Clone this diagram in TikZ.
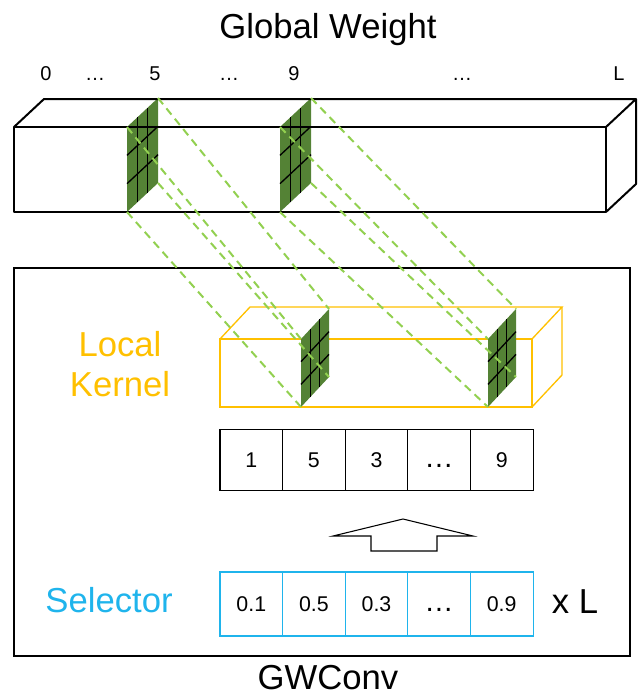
\documentclass[tikz,border=0pt]{standalone}
\usepackage{fontspec}
\setmainfont{Liberation Sans}
\usepackage{xcolor}
\usetikzlibrary{calc,positioning}
\definecolor{slicegreen}{HTML}{548235}
\definecolor{dashgreen}{HTML}{92D050}
\definecolor{kernelorange}{HTML}{FFC000}
\definecolor{selblue}{HTML}{1FB4EC}
\tikzset{%
  slicefill/.style = {fill=slicegreen}, % Weight slice
  gridline/.style  = {draw=black, line width=1pt},
  proj/.style      = {draw=dashgreen, line width=1.5pt, dash pattern=on 6pt off 4pt},
  idxcell/.style   = {draw, line width=0.8pt, minimum width=47pt, minimum height=46pt,
    inner sep=0pt, font=\fontsize{16}{16}\selectfont, text height=11.5pt, text depth=0pt},
  selcell/.style   = {idxcell, draw=selblue, minimum height=48pt},
  toplabel/.style  = {inner sep=0pt, font=\fontsize{15}{15}\selectfont, text height=11pt, text depth=0pt},
  bigtext/.style   = {inner sep=0pt, font=\fontsize{26}{30}\selectfont}
}
\newcommand{\celldots}{{\fontsize{22}{22}\selectfont …}}
% slice: name, x, bottom y, height, depth dx, depth dy
\newcommand{\wslice}[6]{%
  \coordinate (#1-a) at (#2,#3);
  \coordinate (#1-b) at (#2,#3-#4);
  \coordinate (#1-c) at (#2+#5,#3-#4+#6);
  \coordinate (#1-d) at (#2+#5,#3+#6);
  \fill[slicefill] (#1-a) -- (#1-b) -- (#1-c) -- (#1-d) -- cycle;
  \foreach \t in {1,2} {
    \draw[gridline] ($(#1-a)!\t/3!(#1-d)$) -- ($(#1-b)!\t/3!(#1-c)$);
    \draw[gridline] ($(#1-a)!\t/3!(#1-b)$) -- ($(#1-d)!\t/3!(#1-c)$);
  }
}

\begin{document}
\begin{tikzpicture}[x=0.75pt, y=-0.75pt]
    \useasboundingbox (0,0) rectangle (637,697);

    % Title and positions
    \node[bigtext] (title) at (328,30) {Global Weight};
    \foreach \x/\lab [count=\i] in {46/0, 95/\ldots, 155/5, 229/\ldots, 294/9, 462/\ldots, 619/L}
        \node[toplabel] (top-\i) at (\x,73) {\lab};

    % Global weight slices
    \wslice{g1}{127}{212}{85}{31}{-29}
    \wslice{g2}{280}{212}{85}{31}{-29}

    % Global weight box
    \draw[line width=1.5pt, line join=round] (14,127) rectangle (606,212);
    \draw[line width=1.5pt, line join=round] (14,127) -- (44,99) -- (636,99) -- (606,127);
    \draw[line width=1.5pt, line join=round] (636,99) -- (636,184) -- (606,212);

    % GWConv panel
    \draw[line width=1pt] (14,268) rectangle (630,656);
    \node[bigtext] (gwconv) at (328,678) {GWConv};

    % Local kernel box
    \draw[kernelorange, line width=1pt] (220,339) rectangle (532,407);
    \draw[kernelorange, line width=1pt] (220,339) -- (250,307) -- (562,307) -- (532,339);
    \draw[kernelorange, line width=1pt] (562,307) -- (562,375) -- (532,407);
    \node[bigtext, text=kernelorange, align=center] (kernel) at (120,364) {Local\\Kernel};

    % Local kernel slices
    \wslice{l1}{301}{407}{68}{28}{-30}
    \wslice{l2}{488}{407}{68}{28}{-30}

    % Projections from global to local
    \foreach \k in {a,b,c,d} {
        \draw[proj] (g1-\k) -- (l1-\k);
        \draw[proj] (g2-\k) -- (l2-\k);
    }

    % Index row
    \foreach \lab [count=\i] in {1,5,3,\celldots,9}
        \node[idxcell] (idx-\i) at ({220+62.6*(\i-0.5)},460) {\lab};

    % Hollow arrow
    \coordinate (up) at (403,519);
    \draw[line width=0.8pt, line join=miter] (up) -- (473,536) -- (437,536) -- (437,551)
        -- (371,551) -- (371,536) -- (333,536) -- cycle;

    % Selector row
    \foreach \lab [count=\i] in {0.1,0.5,0.3,\celldots,0.9}
        \node[selcell] (sel-\i) at ({220+62.6*(\i-0.5)},604) {\lab};
    \node[bigtext, text=selblue] (selector) at (109,600) {Selector};
    \node[bigtext] (times) at (575,602) {x L};

\end{tikzpicture}
\end{document}
